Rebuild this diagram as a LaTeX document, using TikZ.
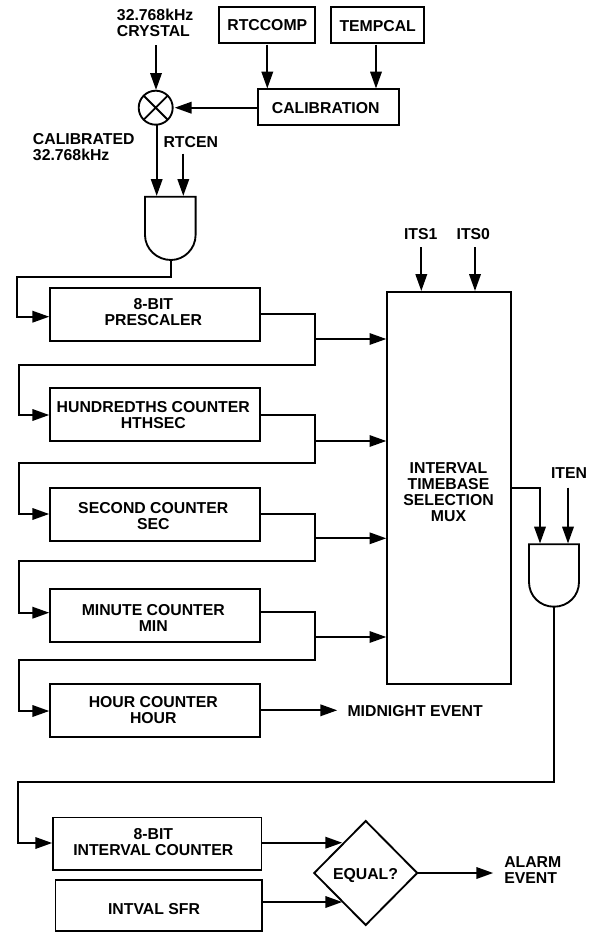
\documentclass[tikz,border=0pt]{standalone}
\usepackage{fontspec}
\setmainfont{Liberation Sans}
\usetikzlibrary{arrows.meta,shapes.geometric,calc}
\tikzset{
  every node/.style={font=\fontsize{11.85pt}{12pt}\selectfont\bfseries},
  bx/.style 2 args={draw,rectangle,line width=1.4pt,inner sep=0pt,outer sep=0pt,minimum width=#1*0.75pt,minimum height=#2*0.75pt},
  lbl/.style={align=center,inner sep=0pt},
  lft/.style={align=left,anchor=west,inner sep=0pt},
  wire/.style={line width=1.4pt,line join=miter},
  arr/.style={wire,-{Triangle[length=12.6pt,width=8.6pt]},shorten >=0.6pt},
  gatepath/.style={line width=1.4pt,line join=miter}
}
\begin{document}
\begin{tikzpicture}[x=0.75pt,y=-0.75pt]
\useasboundingbox (0,0) rectangle (598,932);
% boxes
\node[bx={96}{36}] (rc) at (267.3,24.7) {};
\node[bx={93.3}{36}] (tc) at (377.7,24.7) {};
\node[bx={141}{36}] (cal) at (328.2,107.3) {};
\node[bx={209.7}{53}] (pre) at (154.9,314.2) {};
\node[bx={209.7}{53.3}] (hth) at (154.9,414.7) {};
\node[bx={209.7}{53}] (sec) at (154.9,514.8) {};
\node[bx={209.7}{52.7}] (min) at (154.9,615.3) {};
\node[bx={209.7}{53}] (hour) at (154.9,710.5) {};
\node[bx={124}{392}] (mux) at (448.7,487.8) {};
\node[bx={208.5}{52.5}] (ivc) at (157.2,843.7) {};
\node[bx={206.5}{51}] (ivs) at (158.7,905.5) {};
\node[draw,diamond,line width=1.4pt,inner sep=0pt,outer sep=0pt,minimum width=103*0.75pt,minimum height=104*0.75pt] (eq) at (365.7,873) {};
\node[draw,circle,line width=1.4pt,inner sep=0pt,outer sep=0pt,minimum size=34*0.75pt] (xo) at (155.7,107.7) {};
\draw[wire] (xo.45) -- (xo.225) (xo.135) -- (xo.315);
% gates
\coordinate (g1l) at (145,196.7); \coordinate (g1r) at (195.6,196.7); \coordinate (g1o) at (171,260);
\coordinate (g2l) at (529,544.3); \coordinate (g2r) at (579,544.3); \coordinate (g2o) at (554,606.7);
\draw[gatepath] (g1l) -- (g1r) -- (195.6,235) .. controls (195.6,249) and (184,260) .. (g1o) .. controls (157,260) and (145,249) .. (145,235) -- cycle;
\draw[gatepath] (g2l) -- (g2r) -- (579,582) .. controls (579,596) and (568,606.7) .. (g2o) .. controls (540,606.7) and (529,596) .. (529,582) -- cycle;
% labels
\node[lft] (t1) at (116.7,23) {32.768kHz\\CRYSTAL};
\node[lft] (t2) at (32.7,147.3) {CALIBRATED\\32.768kHz};
\node[lft] (t3) at (163.3,141.7) {RTCEN};
\node[lbl] (t4) at (267.3,25.3) {RTCCOMP};
\node[lbl] (t5) at (377.7,26) {TEMPCAL};
\node[lbl] (t6) at (325.7,108) {CALIBRATION};
\node[lbl] (t7) at (420.7,234) {ITS1};
\node[lbl] (t8) at (473.3,234) {ITS0};
\node[lbl] (t9) at (569,473.3) {ITEN};
\node[lbl] (t10) at (153.3,312.5) {8-BIT\\PRESCALER};
\node[lbl] (t11) at (153.3,415.3) {HUNDREDTHS COUNTER\\HTHSEC};
\node[lbl] (t12) at (153.3,516.3) {SECOND COUNTER\\SEC};
\node[lbl] (t13) at (153.3,618.3) {MINUTE COUNTER\\MIN};
\node[lbl] (t14) at (153.3,710.3) {HOUR COUNTER\\HOUR};
\node[lbl] (t15) at (448.5,492.5) {INTERVAL\\TIMEBASE\\SELECTION\\MUX};
\node[lft] (t16) at (347.3,711) {MIDNIGHT EVENT};
\node[lbl] (t17) at (153.3,842) {8-BIT\\INTERVAL COUNTER};
\node[lbl] (t18) at (154,909) {INTVAL SFR};
\node[lbl] (t19) at (365.5,875.5) {EQUAL?};
\node[lft] (t20) at (504,870) {ALARM\\EVENT};
% guides
\coordinate (xa) at (156,45); \coordinate (xb) at (156.7,125);
\coordinate (xc) at (183.3,153.7);
\coordinate (xd) at (376,0);
\coordinate (xe) at (421.3,247); \coordinate (xf) at (475,247);
\coordinate (wl) at (19,0); \coordinate (wla) at (16.7,0); \coordinate (wlb) at (18,0); \coordinate (wr) at (315,0);
\coordinate (ya) at (0,276.7); \coordinate (yb) at (0,316.7);
\coordinate (y1) at (0,314); \coordinate (b1) at (0,339); \coordinate (d1) at (0,365); \coordinate (h1) at (0,415);
\coordinate (y2) at (0,415.3); \coordinate (b2) at (0,441); \coordinate (d2) at (0,463.3); \coordinate (h2) at (0,514);
\coordinate (y3) at (0,513.7); \coordinate (b3) at (0,538.3); \coordinate (d3) at (0,561.3); \coordinate (h3) at (0,612.7);
\coordinate (y4) at (0,612.3); \coordinate (b4) at (0,637); \coordinate (d4) at (0,659.7); \coordinate (h4) at (0,711);
\coordinate (y5) at (0,710.3); \coordinate (mid) at (338,710.3);
\coordinate (ym) at (0,487.7); \coordinate (xm) at (540,0); \coordinate (xn) at (568,487.7);
\coordinate (yw) at (0,782); \coordinate (yv) at (0,843);
\coordinate (yi) at (0,842.7); \coordinate (ys) at (0,902); \coordinate (xq) at (343,0);
\coordinate (alarm) at (494,873);
% top connectors
\draw[arr] (xa) -- (xa |- xo.north);
\draw[arr,shorten >=1.5pt] (cal.west |- xo) -- (xo.east);
\draw[arr] (xb) -- (xb |- g1l);
\draw[arr] (xc) -- (xc |- g1l);
\draw[arr,shorten <=1.5pt] (rc.south) -- (rc.south |- cal.north);
\draw[arr,shorten <=1.5pt] (tc.south -| xd) -- (cal.north -| xd);
\draw[arr] (xe) -- (xe |- mux.north);
\draw[arr] (xf) -- (xf |- mux.north);
% counter chain
\draw[arr] (g1o) -- (g1o |- ya) -- (wla |- ya) -- (wla |- yb) -- (pre.west |- yb);
\draw[arr] (pre.east |- y1) -- (wr |- y1) -- (wr |- d1) -- (wl |- d1) -- (wl |- h1) -- (hth.west |- h1);
\draw[arr] (hth.east |- y2) -- (wr |- y2) -- (wr |- d2) -- (wl |- d2) -- (wl |- h2) -- (sec.west |- h2);
\draw[arr] (sec.east |- y3) -- (wr |- y3) -- (wr |- d3) -- (wl |- d3) -- (wl |- h3) -- (min.west |- h3);
\draw[arr] (min.east |- y4) -- (wr |- y4) -- (wr |- d4) -- (wl |- d4) -- (wl |- h4) -- (hour.west |- h4);
\draw[arr] (hour.east |- y5) -- (mid);
\draw[arr,shorten >=0.3pt] (wr |- b1) -- (mux.west |- b1);
\draw[arr,shorten >=0.3pt] (wr |- b2) -- (mux.west |- b2);
\draw[arr,shorten >=0.3pt] (wr |- b3) -- (mux.west |- b3);
\draw[arr,shorten >=0.3pt] (wr |- b4) -- (mux.west |- b4);
% right side
\draw[arr] (mux.east |- ym) -- (xm |- ym) -- (xm |- g2l);
\draw[arr] (xn) -- (xn |- g2l);
\draw[arr] (g2o) -- (g2o |- yw) -- (wlb |- yw) -- (wlb |- yv) -- (ivc.west |- yv);
\draw[arr] (ivc.east |- yi) -- (xq |- yi);
\draw[arr] (ivs.east |- ys) -- (xq |- ys);
\draw[arr] (eq.east) -- (alarm);
\end{tikzpicture}
\end{document}
